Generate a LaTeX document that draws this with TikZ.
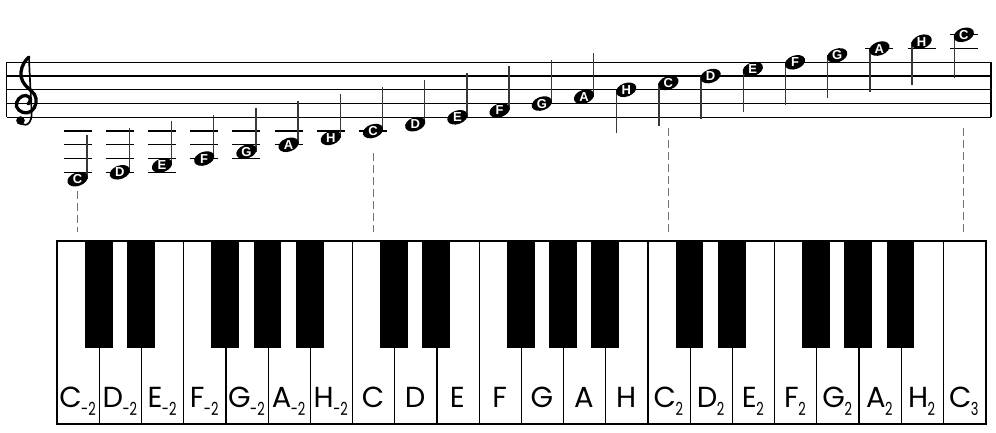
\documentclass[tikz,border=0pt]{standalone}
\usepackage{fontspec}
\setmainfont{Liberation Sans}
\newfontfamily\keyfont{Poppins}
\usetikzlibrary{shapes.geometric}
\newcommand\ksub[1]{\kern-0.5pt\raisebox{-7.7pt}{\scalebox{0.72}[1]{\fontsize{18}{18}\selectfont #1}}}
\begin{document}
\begin{tikzpicture}[x=1pt,y=-1pt,
  staffline/.style={line width=1.2pt, black},
  ledger/.style={line width=1.2pt, black},
  stem/.style={line width=1.4pt, black!78},
  head/.style={ellipse, fill=black, minimum width=21pt, minimum height=13.5pt, inner sep=0pt, rotate=20},
  headtxt/.style={text=white, font=\fontsize{13}{13}\selectfont\bfseries, inner sep=0pt},
  guide/.style={black!55, line width=0.9pt, dash pattern=on 8pt off 4pt},
  whitekey/.style={draw=black, line width=1.2pt, fill=white, minimum width=42.2pt, minimum height=182pt, inner sep=0pt, anchor=north west},
  blackkey/.style={fill=black, minimum width=27.7pt, minimum height=107pt, inner sep=0pt, anchor=north},
  keylabel/.style={font=\keyfont\fontsize{29}{29}\selectfont, anchor=base, inner sep=0pt}
]
\useasboundingbox (0,0) rectangle (996,432);

% staff
\foreach \k in {0,...,4}{
  \pgfmathsetmacro\yy{62.3+13.75*\k}
  \draw[staffline] (6.5,\yy) -- (991,\yy);
}
\draw[staffline] (6.5,62.3) -- (6.5,117.3);
\draw[staffline] (991,62.3) -- (991,117.3);

% treble clef
\draw[line width=1.7pt, line cap=round] plot[smooth, tension=0.7] coordinates {(29,57) (29.5,70) (30.5,90) (31.5,110) (31,119) (27,124.5) (21,123.5)};
\fill (20.5,120.5) circle (4.3pt);
\draw[line width=3.3pt, line cap=round] plot[smooth, tension=0.7] coordinates {(29,57) (24,63) (21,72) (22.5,81) (28,88) (34.5,94.5) (36,103) (31.5,111) (23,112.5) (16.5,106.5) (19,98.5) (26,95.5) (30.5,99.5) (28,104)};

% ledger lines
\foreach \i/\j in {0/7,0/5,0/3,0/1,1/7,1/5,1/3,1/1,2/7,2/5,2/3,2/1,3/7,3/5,3/3,4/7,4/5,4/3,5/7,5/5,6/7,7/7,19/19,20/19,21/19,21/21}{
  \pgfmathsetmacro\xx{77.6+42.2*\i-14}
  \pgfmathsetmacro\yy{117.3+(9-\j)*6.875}
  \draw[ledger] (\xx,\yy) -- ++(28,0);
}

% notes
\foreach \i/\n in {0/C,1/D,2/E,3/F,4/G,5/A,6/H,7/C,8/D,9/E,10/F,11/G,12/A,13/H,14/C,15/D,16/E,17/F,18/G,19/A,20/H,21/C}{
  \pgfmathsetmacro\xx{77.6+42.2*\i}
  \pgfmathsetmacro\yy{117.3+(9-\i)*6.875}
  \ifnum\i<13
    \draw[stem] (\xx+9.5,\yy) -- ++(0,-44);
  \else
    \draw[stem] (\xx-9.5,\yy) -- ++(0,43);
  \fi
  \node[head] (n\i) at (\xx,\yy) {};
  \node[headtxt] (t\i) at (n\i.center) {\n};
}

% keyboard white keys
\foreach \i in {0,...,21}{
  \pgfmathsetmacro\xx{56.5+42.2*\i}
  \node[whitekey] (wk\i) at (\xx,241) {};
}
\draw[line width=2pt] (wk0.north west) rectangle (wk21.south east);

% black keys
\foreach \i in {1,2,4,5,6,8,9,11,12,13,15,16,18,19,20}{
  \node[blackkey] (bk\i) at (wk\i.north west) {};
}

% dashed guides
\coordinate (g0a) at (77.6,191);
\coordinate (g1a) at (373,153);
\coordinate (g2a) at (668.4,128);
\coordinate (g3a) at (963.8,128);
\draw[guide] (g0a) -- (g0a |- 0,232);
\draw[guide] (g1a) -- (g1a |- 0,232);
\draw[guide] (g2a) -- (g2a |- 0,232);
\draw[guide] (g3a) -- (g3a |- 0,232);

% key labels
\foreach \i/\t in {0/C\ksub{-2},1/D\ksub{-2},2/E\ksub{-2},3/F\ksub{-2},4/G\ksub{-2},5/A\ksub{-2},6/H\ksub{-2},
                   7/C,8/D,9/E,10/F,11/G,12/A,13/H,
                   14/C\ksub{2},15/D\ksub{2},16/E\ksub{2},17/F\ksub{2},18/G\ksub{2},19/A\ksub{2},20/H\ksub{2},21/C\ksub{3}}{
  \pgfmathsetmacro\xx{77.6+42.2*\i}
  \node[keylabel] (lb\i) at (\xx,407.3) {\t};
}
\end{tikzpicture}
\end{document}
